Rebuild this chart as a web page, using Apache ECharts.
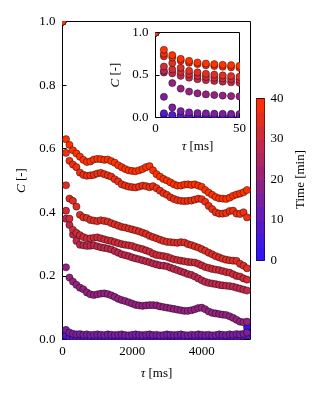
<!DOCTYPE html>
<html><head><meta charset="utf-8">
<script src="https://cdn.jsdelivr.net/npm/echarts@6/dist/echarts.min.js"></script>
<style>html,body{margin:0;padding:0;background:#fff}#c{width:327px;height:394px}</style>
</head><body><div id="c"></div>
<script>
// ---------- data ----------
const tauMain = [0,100,200,300,400,500,600,700,800,900,1000,1100,1200,1300,1400,1500,1600,1700,1800,1900,2000,2100,2200,2300,2400,2500,2600,2700,2800,2900,3000,3100,3200,3300,3400,3500,3600,3700,3800,3900,4000,4100,4200,4300,4400,4500,4600,4700,4800,4900,5000,5100,5200,5300];
const tauInset = [0,5,10,15,20,25,30,35,40,45,50];
const times = [2, 8, 15, 20, 28, 31, 34, 37, 40]; // minutes

const main_t02 = [1,.006,.004,.003,.005,.002,.004,.003,.005,.004,.002,.004,.003,.005,.004,.002,.003,.004,.005,.003,.004,.002,.004,.005,.003,.004,.002,.003,.005,.004,.003,.004,.002,.005,.003,.004,.003,.002,.004,.005,.003,.004,.003,.002,.005,.004,.003,.004,.002,.005,.004,.006,.012,.038];
const main_t08 = [1,.012,.008,.007,.006,.008,.007,.005,.006,.008,.007,.006,.007,.005,.008,.006,.007,.006,.005,.007,.008,.006,.007,.005,.006,.008,.007,.006,.005,.007,.006,.008,.006,.007,.005,.006,.007,.008,.006,.005,.007,.006,.008,.007,.006,.005,.007,.006,.008,.007,.006,.008,.01,.012];
const main_t15 = [1,.03,.022,.018,.016,.017,.015,.016,.014,.015,.016,.015,.014,.016,.015,.014,.015,.016,.014,.013,.015,.016,.015,.014,.015,.016,.014,.015,.013,.014,.016,.015,.014,.015,.016,.014,.013,.015,.014,.016,.015,.014,.015,.013,.014,.016,.015,.014,.016,.015,.017,.016,.018,.022];
const main_t20 = [1,.227,.195,.182,.172,.163,.158,.148,.142,.14,.142,.144,.145,.143,.139,.134,.128,.124,.121,.117,.113,.109,.107,.106,.107,.108,.108,.107,.104,.102,.1,.098,.096,.094,.092,.09,.09,.092,.095,.099,.1,.095,.088,.084,.082,.08,.078,.077,.073,.068,.062,.056,.054,.056];
const main_t28 = [1,.38,.36,.33,.31,.298,.296,.294,.295,.296,.293,.29,.288,.286,.283,.278,.273,.268,.265,.262,.258,.255,.252,.249,.246,.243,.239,.236,.233,.232,.23,.226,.222,.218,.214,.21,.206,.203,.198,.192,.186,.181,.178,.176,.174,.172,.17,.169,.168,.166,.163,.16,.157,.154];
const main_t31 = [1,.405,.38,.345,.335,.328,.322,.318,.318,.32,.321,.318,.315,.312,.31,.306,.303,.3,.298,.296,.294,.29,.287,.284,.28,.276,.27,.266,.264,.262,.26,.256,.252,.25,.248,.246,.244,.243,.242,.238,.233,.228,.225,.222,.22,.218,.215,.212,.21,.205,.2,.198,.192,.188];
const main_t34 = [1,.485,.443,.436,.418,.392,.384,.382,.376,.374,.372,.375,.373,.371,.366,.362,.358,.354,.352,.349,.346,.343,.34,.336,.332,.326,.322,.318,.314,.31,.307,.306,.305,.304,.306,.305,.3,.297,.293,.289,.284,.279,.273,.268,.262,.258,.254,.251,.249,.248,.247,.238,.232,.224];
const main_t37 = [1,.587,.562,.55,.542,.525,.518,.515,.516,.518,.522,.524,.52,.516,.512,.504,.497,.488,.484,.481,.479,.478,.481,.484,.482,.479,.482,.476,.468,.46,.455,.447,.442,.438,.436,.435,.436,.437,.44,.443,.441,.433,.42,.41,.4,.396,.396,.398,.404,.405,.396,.395,.4,.384];
const main_t40 = [1,.63,.612,.595,.585,.575,.565,.558,.56,.566,.568,.567,.565,.566,.561,.556,.548,.542,.536,.532,.53,.529,.532,.536,.542,.545,.532,.52,.512,.505,.5,.494,.488,.484,.484,.487,.488,.486,.488,.484,.48,.47,.462,.455,.448,.444,.443,.442,.446,.452,.456,.459,.463,.47];

const inset_t02 = [1,.03,.02,.015,.015,.012,.012,.012,.01,.01,.01];
const inset_t08 = [1,.05,.03,.025,.022,.02,.02,.018,.018,.017,.017];
const inset_t15 = [1,.243,.118,.075,.06,.052,.048,.045,.043,.042,.04];
const inset_t20 = [1,.53,.405,.34,.305,.285,.272,.264,.258,.252,.248];
const inset_t28 = [1,.55,.52,.49,.468,.45,.44,.43,.422,.415,.41];
const inset_t31 = [1,.6,.565,.535,.51,.49,.478,.468,.46,.452,.445];
const inset_t34 = [1,.72,.64,.585,.55,.53,.515,.505,.495,.488,.48];
const inset_t37 = [1,.75,.705,.668,.645,.628,.615,.605,.597,.59,.585];
const inset_t40 = [1,.796,.734,.69,.667,.647,.635,.628,.62,.616,.608];

const mainTicksX = [0,2000,4000];
const cbTicks = [0,10,20,30,40];
const cbSteps = 12;

// ---------- chart ----------
const mainSets = [main_t02,main_t08,main_t15,main_t20,main_t28,main_t31,main_t34,main_t37,main_t40];
const insetSets = [inset_t02,inset_t08,inset_t15,inset_t20,inset_t28,inset_t31,inset_t34,inset_t37,inset_t40];
const FONT = 'Liberation Serif';
const txt = {color:'#000', fontFamily:FONT, fontSize:13};
const rich = {i:{fontStyle:'italic', fontFamily:FONT, fontSize:13, color:'#000'}};

function cmap(t){
  const f = Math.max(0, Math.min(1, t/40));
  const lo=[40,20,255], hi=[255,50,0];
  return 'rgb(' + lo.map((v,i)=>Math.round(v+(hi[i]-v)*f)).join(',') + ')';
}
function dots(color, r){
  return function(params, api){
    const p = api.coord([api.value(0), api.value(1)]);
    return {type:'circle', shape:{cx:p[0], cy:p[1], r:r},
      style:{fill:color, stroke:'rgba(0,0,0,0.7)', lineWidth:0.6}};
  };
}
const series = [];
mainSets.forEach((vals, k) => {
  series.push({type:'custom', xAxisIndex:0, yAxisIndex:0, clip:true,
    data: tauMain.map((t,i)=>[t, vals[i]]), renderItem: dots(cmap(times[k]), 3.6), z:3});
});
insetSets.forEach((vals, k) => {
  series.push({type:'custom', xAxisIndex:1, yAxisIndex:1, clip:true,
    data: tauInset.map((t,i)=>[t, vals[i]]), renderItem: dots(cmap(times[k]), 3.6), z:5});
});
const cbData = [];
for (let k=0;k<cbSteps;k++){ cbData.push([k*40/cbSteps, (k+1)*40/cbSteps, (k+0.5)*40/cbSteps]); }
series.push({type:'custom', xAxisIndex:2, yAxisIndex:2, clip:true, data: cbData,
  renderItem: function(params, api){
    const a = api.coord([0, api.value(0)]), b = api.coord([1, api.value(1)]);
    return {type:'rect', shape:{x:a[0], y:b[1], width:b[0]-a[0], height:a[1]-b[1]+0.5},
      style:{fill:cmap(api.value(2))}};
  }});

const tick = {show:true, inside:true, length:4, lineStyle:{color:'#000', width:1}};
const plain = v => String(Math.round(v));
const option = {
  animation:false,
  backgroundColor:'#fff',
  grid:[
    {left:62.5, top:21.5, width:188, height:318, show:true, borderColor:'#000', borderWidth:1, backgroundColor:'transparent'},
    {left:155.5, top:32.5, width:84, height:85, show:true, borderColor:'#000', borderWidth:1, backgroundColor:'#fff', z:4},
    {left:256.5, top:98.5, width:8, height:162, show:true, borderColor:'#000', borderWidth:1, backgroundColor:'transparent'}
  ],
  xAxis:[
    {gridIndex:0, type:'value', min:0, max:5400, interval:2000,
      axisLine:{show:false}, axisTick:Object.assign({}, tick, {customValues:mainTicksX}), splitLine:{show:false},
      axisLabel:Object.assign({}, txt, {margin:6, customValues:mainTicksX, formatter:plain}),
      name:'{i|τ} [ms]', nameLocation:'middle', nameGap:28, nameTextStyle:Object.assign({}, txt, {rich})},
    {gridIndex:1, type:'value', min:0, max:50, interval:50,
      axisLine:{show:false}, axisTick:tick, splitLine:{show:false},
      axisLabel:Object.assign({}, txt, {margin:5, formatter:plain}),
      name:'{i|τ} [ms]', nameLocation:'middle', nameGap:23, nameTextStyle:Object.assign({}, txt, {rich}), z:6},
    {gridIndex:2, type:'value', min:0, max:1, show:false}
  ],
  yAxis:[
    {gridIndex:0, type:'value', min:0, max:1, interval:0.2,
      axisLine:{show:false}, axisTick:tick, splitLine:{show:false},
      axisLabel:Object.assign({}, txt, {margin:7, formatter:v=>v.toFixed(1)}),
      name:'{i|C} [-]', nameLocation:'middle', nameGap:34, nameRotate:90, nameTextStyle:Object.assign({}, txt, {rich})},
    {gridIndex:1, type:'value', min:0, max:1, interval:0.5,
      axisLine:{show:false}, axisTick:tick, splitLine:{show:false},
      axisLabel:Object.assign({}, txt, {margin:7, formatter:v=>v.toFixed(1)}),
      name:'{i|C} [-]', nameLocation:'middle', nameGap:33, nameRotate:90, nameTextStyle:Object.assign({}, txt, {rich}), z:6},
    {gridIndex:2, type:'value', min:0, max:40, interval:10, position:'right',
      axisLine:{show:false}, axisTick:{show:true, inside:false, length:4, lineStyle:{color:'#000', width:1}, customValues:cbTicks},
      splitLine:{show:false},
      axisLabel:Object.assign({}, txt, {margin:6, customValues:cbTicks, formatter:plain}),
      name:'Time [min]', nameLocation:'middle', nameGap:30, nameRotate:90, nameTextStyle:txt}
  ],
  series: series
};
const chart = echarts.init(document.getElementById('c'), null, {renderer:'canvas'});
chart.setOption(option);
</script>
</body></html>
